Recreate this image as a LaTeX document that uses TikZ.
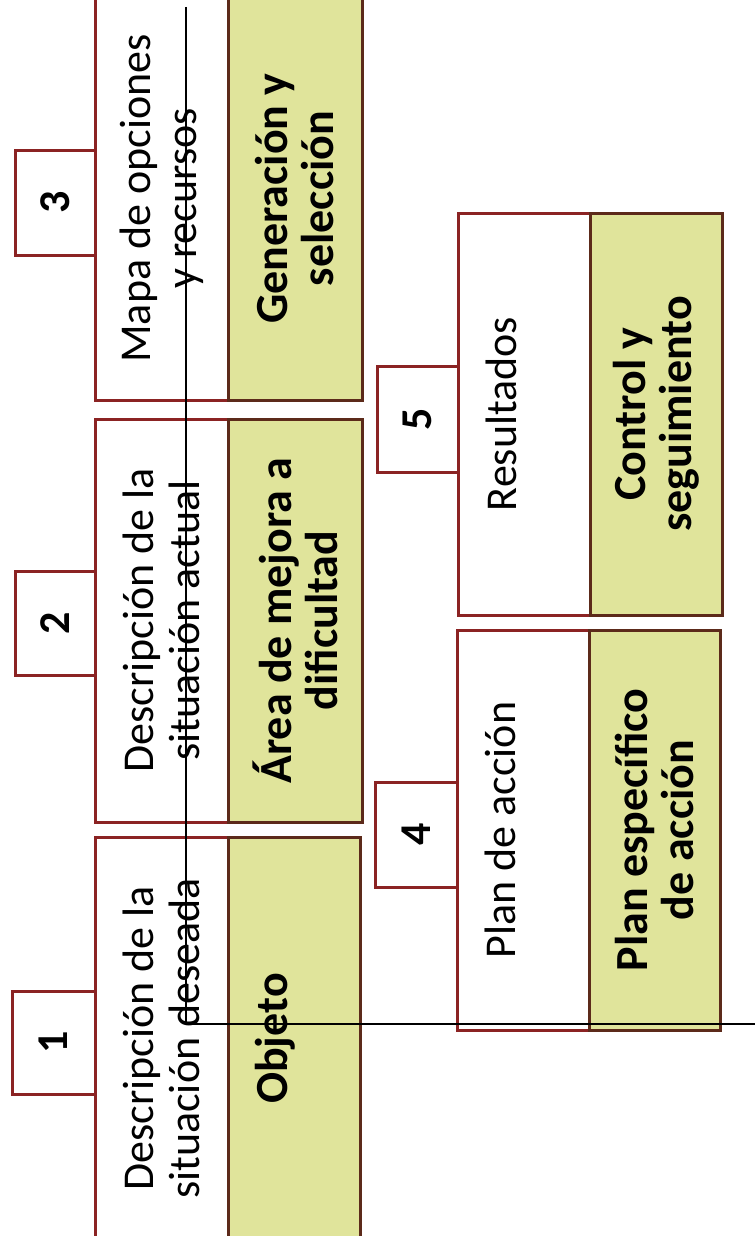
\documentclass[tikz,border=0pt]{standalone}
\usepackage{fontspec}
\setmainfont{Carlito}
\definecolor{bord}{HTML}{8B2323}
\definecolor{ybord}{HTML}{5C2A1A}
\definecolor{yfill}{HTML}{E0E49B}
\begin{document}
\begin{tikzpicture}[x=1pt,y=-1pt,
  wbox/.style={draw=bord, line width=3pt, fill=white, rotate=90, inner sep=0pt,
    align=center, font=\fontsize{44}{46}\selectfont},
  ybox/.style={draw=ybord, line width=3pt, fill=yfill, rotate=90, inner sep=0pt,
    align=center, font=\fontsize{46}{46}\selectfont\bfseries},
  tabbox/.style={draw=bord, line width=3pt, fill=white, rotate=90, inner sep=0pt,
    font=\fontsize{44}{46}\selectfont\bfseries},
  link/.style={black, line width=2.4pt}]
\path[use as bounding box, clip] (0,0) rectangle (755,1236);
\fill[white] (0,0) rectangle (755,1236);
% column 1
\node[wbox, minimum width=403, minimum height=133] (w3) at (161.5,198.5) {Mapa de opciones\\y recursos};
\node[ybox, minimum width=403, minimum height=134] (y3) at (295,198.5) {Generación y\\selección};
\node[tabbox, minimum width=105, minimum height=80] (t3) at (55,202.5) {3};
\node[wbox, minimum width=403, minimum height=133] (w2) at (161.5,620.5) {Descripción de la\\situación actual};
\node[ybox, minimum width=403, minimum height=134] (y2) at (295,620.5) {Área de mejora a\\dificultad};
\node[tabbox, minimum width=104, minimum height=80] (t2) at (55,623) {2};
\node[wbox, minimum width=403, minimum height=133] (w1) at (161.5,1038.5) {Descripción de la\\situación deseada};
\node[ybox, minimum width=403, minimum height=132] (y1) at (294,1038.5) {Objeto\\\mbox{}};
\node[tabbox, minimum width=103, minimum height=83] (t1) at (53.5,1042.5) {1};
% column 2
\node[wbox, minimum width=402, minimum height=132] (w5) at (524,414) {Resultados\\\mbox{}};
\node[ybox, minimum width=402, minimum height=132] (y5) at (656,414) {Control y\\seguimiento};
\node[tabbox, minimum width=106, minimum height=81] (t5) at (417.5,419) {5};
\node[wbox, minimum width=400, minimum height=132] (w4) at (523,830) {Plan de acción\\\mbox{}};
\node[ybox, minimum width=400, minimum height=131] (y4) at (654.5,830) {Plan específico\\de acción};
\node[tabbox, minimum width=105, minimum height=82] (t4) at (416,834.5) {4};
% black lines
\coordinate (lt) at (186,7);
\coordinate (lc) at (186,1024);
\coordinate (lr) at (755,1024);
\draw[link] (lt) -- (lc) -- (lr);
\end{tikzpicture}
\end{document}
